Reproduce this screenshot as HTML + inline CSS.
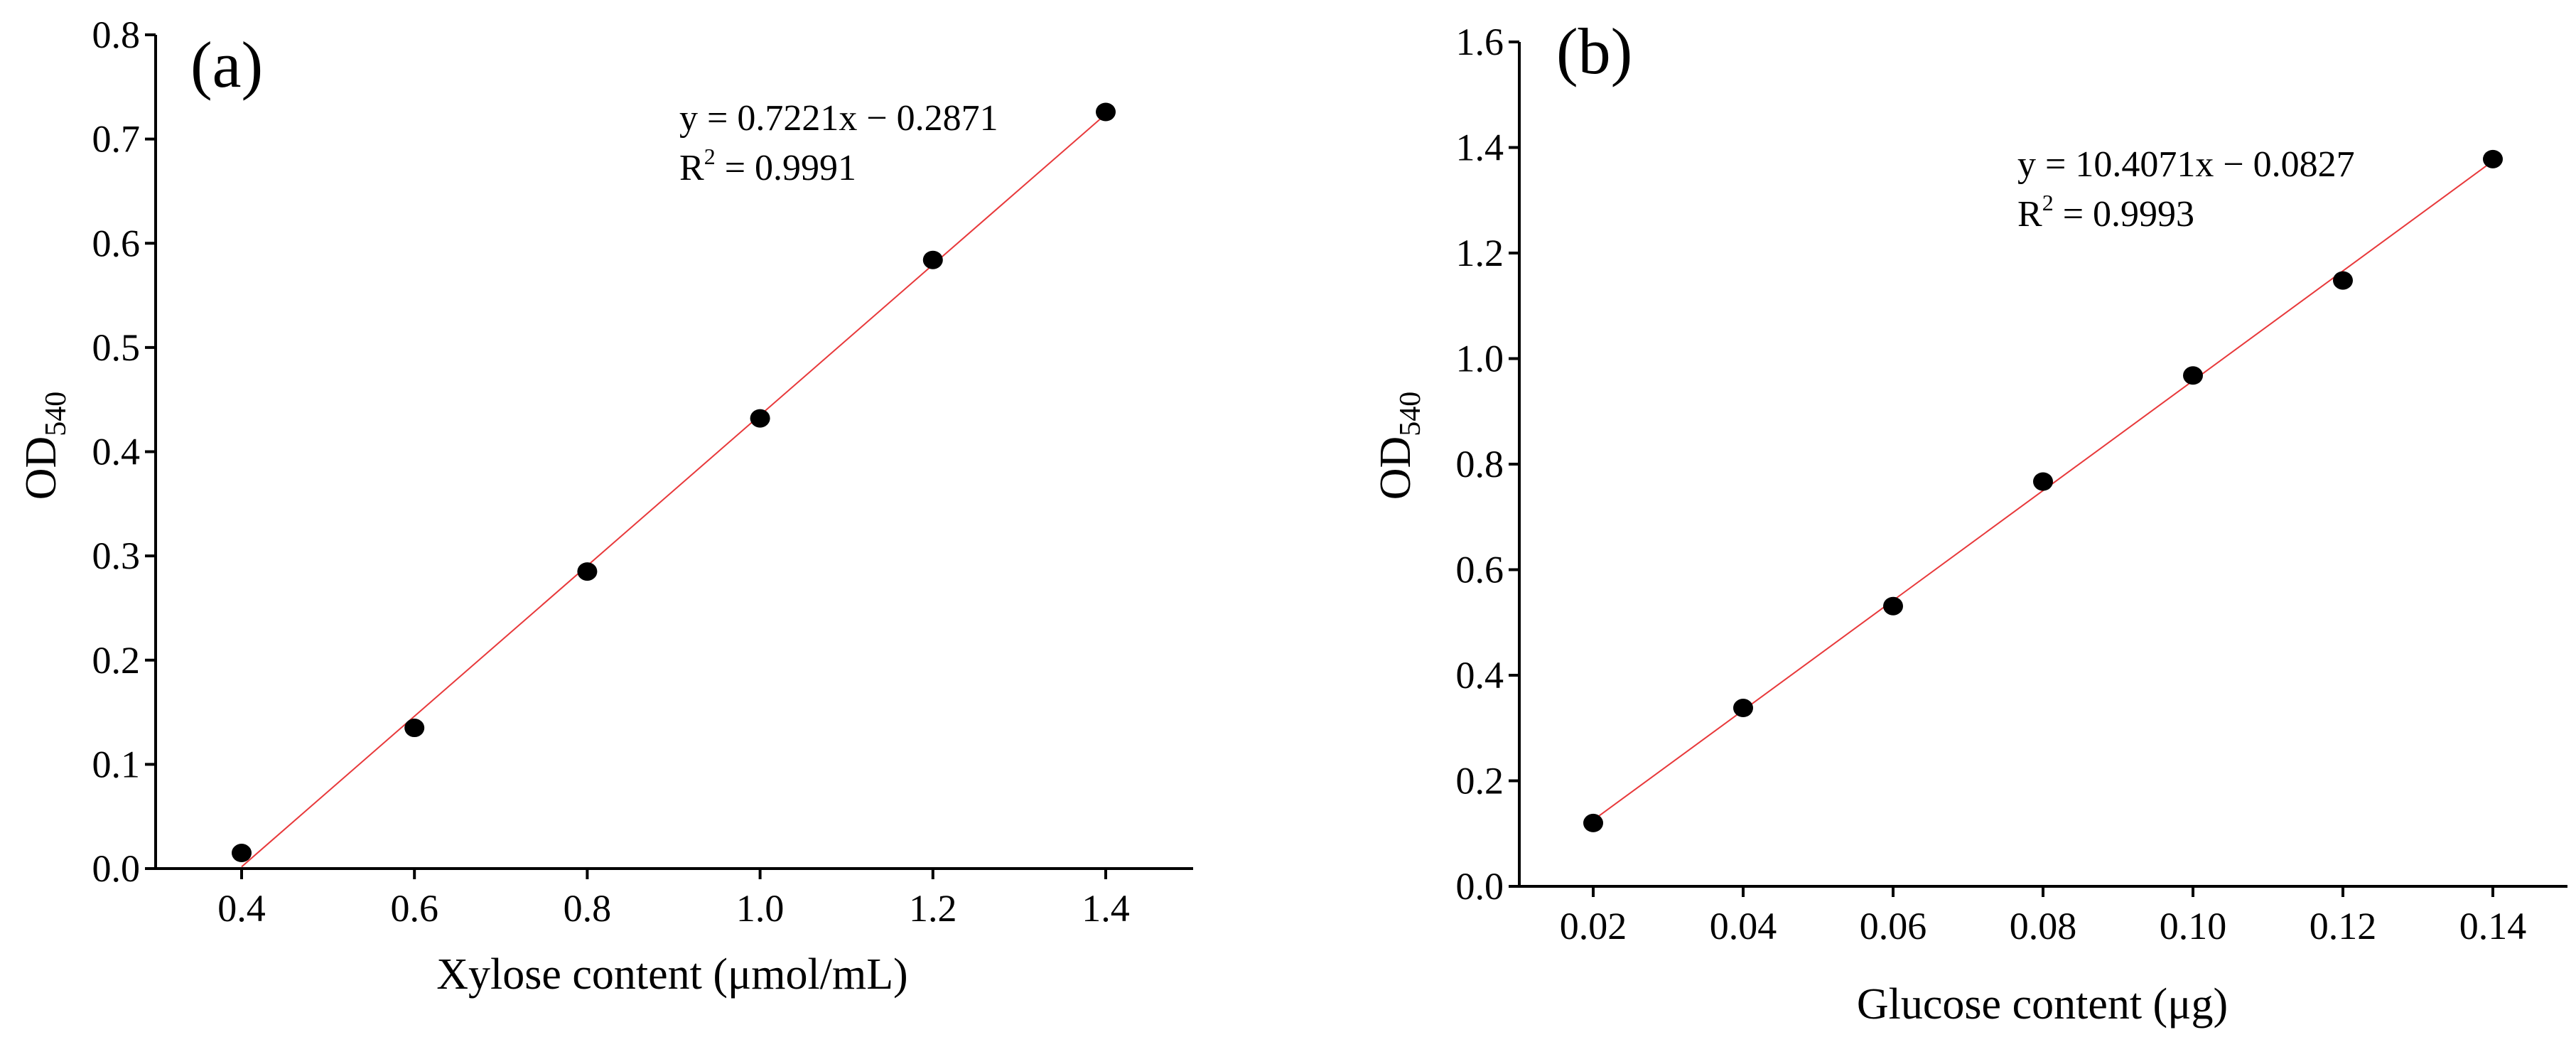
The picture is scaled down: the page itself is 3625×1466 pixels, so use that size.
<!DOCTYPE html>
<html><head><meta charset="utf-8"><style>
body{margin:0;background:#fff}
svg, svg text{font-family:"Liberation Serif","DejaVu Serif",serif}
</style></head><body>
<svg id="c" width="3625" height="1461" viewBox="0 0 3625 1461" font-family="Liberation Serif, serif"></svg>
<script>
const xA=[0.4,0.6,0.8,1.0,1.2,1.4];
const yA=[0.015,0.135,0.285,0.432,0.584,0.726];
const xTicksA=["0.4","0.6","0.8","1.0","1.2","1.4"];
const yTicksA=["0.0","0.1","0.2","0.3","0.4","0.5","0.6","0.7","0.8"];
const fitA=[0.7221,-0.2871];
const xB=[0.02,0.04,0.06,0.08,0.10,0.12,0.14];
const yB=[0.12,0.338,0.531,0.767,0.968,1.148,1.378];
const xTicksB=["0.02","0.04","0.06","0.08","0.10","0.12","0.14"];
const yTicksB=["0.0","0.2","0.4","0.6","0.8","1.0","1.2","1.4","1.6"];
const fitB=[10.4071,-0.0827];
const NS="http://www.w3.org/2000/svg";
const svg=document.getElementById('c');
const FF='"Liberation Serif", serif';
function mk(tag,attrs,parent){const e=document.createElementNS(NS,tag);for(const k in attrs)e.setAttribute(k,attrs[k]);if(tag==='text')e.style.fontFamily=FF;(parent||svg).appendChild(e);return e;}
function panel(cfg){
  const g=mk('g',{});
  
  
  const sx=v=>cfg.px0+(v-cfg.xv0)/(cfg.xv1-cfg.xv0)*(cfg.px1-cfg.px0);
  const sy=v=>cfg.py0+(v-cfg.yv0)/(cfg.yv1-cfg.yv0)*(cfg.py1-cfg.py0);
  const ax=mk('path',{d:`M${cfg.axX} ${sy(cfg.yv1)} V${cfg.axY} H${cfg.axEnd}`,stroke:'#000','stroke-width':4,fill:'none'},g);
  
  
  cfg.yt.forEach(t=>{const y=sy(parseFloat(t));
    mk('line',{x1:cfg.axX-15,x2:cfg.axX,y1:y,y2:y,stroke:'#000','stroke-width':4},g);
    const tx=mk('text',{x:cfg.axX-22,y:y+18,'font-size':54,'text-anchor':'end'},g);tx.textContent=t;
    
    });
  cfg.xt.forEach(t=>{const x=sx(parseFloat(t));
    mk('line',{x1:x,x2:x,y1:cfg.axY,y2:cfg.axY+15,stroke:'#000','stroke-width':4},g);
    const tx=mk('text',{x:x,y:cfg.axY+74,'font-size':54,'text-anchor':'middle'},g);tx.textContent=t;
    
    });
  const x0=cfg.xs[0],x1=cfg.xs[cfg.xs.length-1];
  const ln=mk('line',{x1:sx(x0),y1:sy(cfg.fit[0]*x0+cfg.fit[1]),x2:sx(x1),y2:sy(cfg.fit[0]*x1+cfg.fit[1]),stroke:'#e8393b','stroke-width':2},g);
  
  
  cfg.xs.forEach((v,i)=>{const c=mk('ellipse',{cx:sx(v),cy:sy(cfg.ys[i]),rx:14,ry:13,fill:'#000'},g);
    
    });
  const lab=mk('text',{x:cfg.labX,y:cfg.labY,'font-size':92},g);lab.textContent=cfg.label;
  
  
  const eq=mk('text',{x:cfg.eqX,y:cfg.eqY,'font-size':52},g);eq.textContent=cfg.eq;
  
  
  const r2=mk('text',{x:cfg.eqX,y:cfg.eqY+70,'font-size':52},g);
  r2.innerHTML='R<tspan dy="-22" font-size="32">2</tspan><tspan dy="22"> = '+cfg.r2+'</tspan>';
  
  
  const xt=mk('text',{x:cfg.xtX,y:cfg.xtY,'font-size':62,'text-anchor':'middle'},g);xt.textContent=cfg.xtitle;
  
  
  const yt=mk('text',{transform:`translate(${cfg.ytX},627) rotate(-90)`,'font-size':62,'text-anchor':'middle'},g);
  yt.innerHTML='OD<tspan dy="14" font-size="42">540</tspan>';
  
  
}
panel({name:'panel-a',xs:xA,ys:yA,xt:xTicksA,yt:yTicksA,fit:fitA,
  xv0:0.4,xv1:1.4,px0:340,px1:1556,yv0:0,yv1:0.8,py0:1222,py1:49,
  axX:219,axY:1222,axEnd:1679,label:'(a)',labX:268,labY:122,
  eq:'y = 0.7221x \u2212 0.2871',r2:'0.9991',eqX:956,eqY:183,
  xtitle:'Xylose content (\u03bcmol/mL)',xtX:946,xtY:1391,ytX:78});
panel({name:'panel-b',xs:xB,ys:yB,xt:xTicksB,yt:yTicksB,fit:fitB,
  xv0:0.02,xv1:0.14,px0:2242,px1:3508,yv0:0,yv1:1.6,py0:1247,py1:59,
  axX:2138,axY:1247,axEnd:3613,label:'(b)',labX:2190,labY:103,
  eq:'y = 10.4071x \u2212 0.0827',r2:'0.9993',eqX:2839,eqY:248,
  xtitle:'Glucose content (\u03bcg)',xtX:2874,xtY:1433,ytX:1984});
</script>
</body></html>
